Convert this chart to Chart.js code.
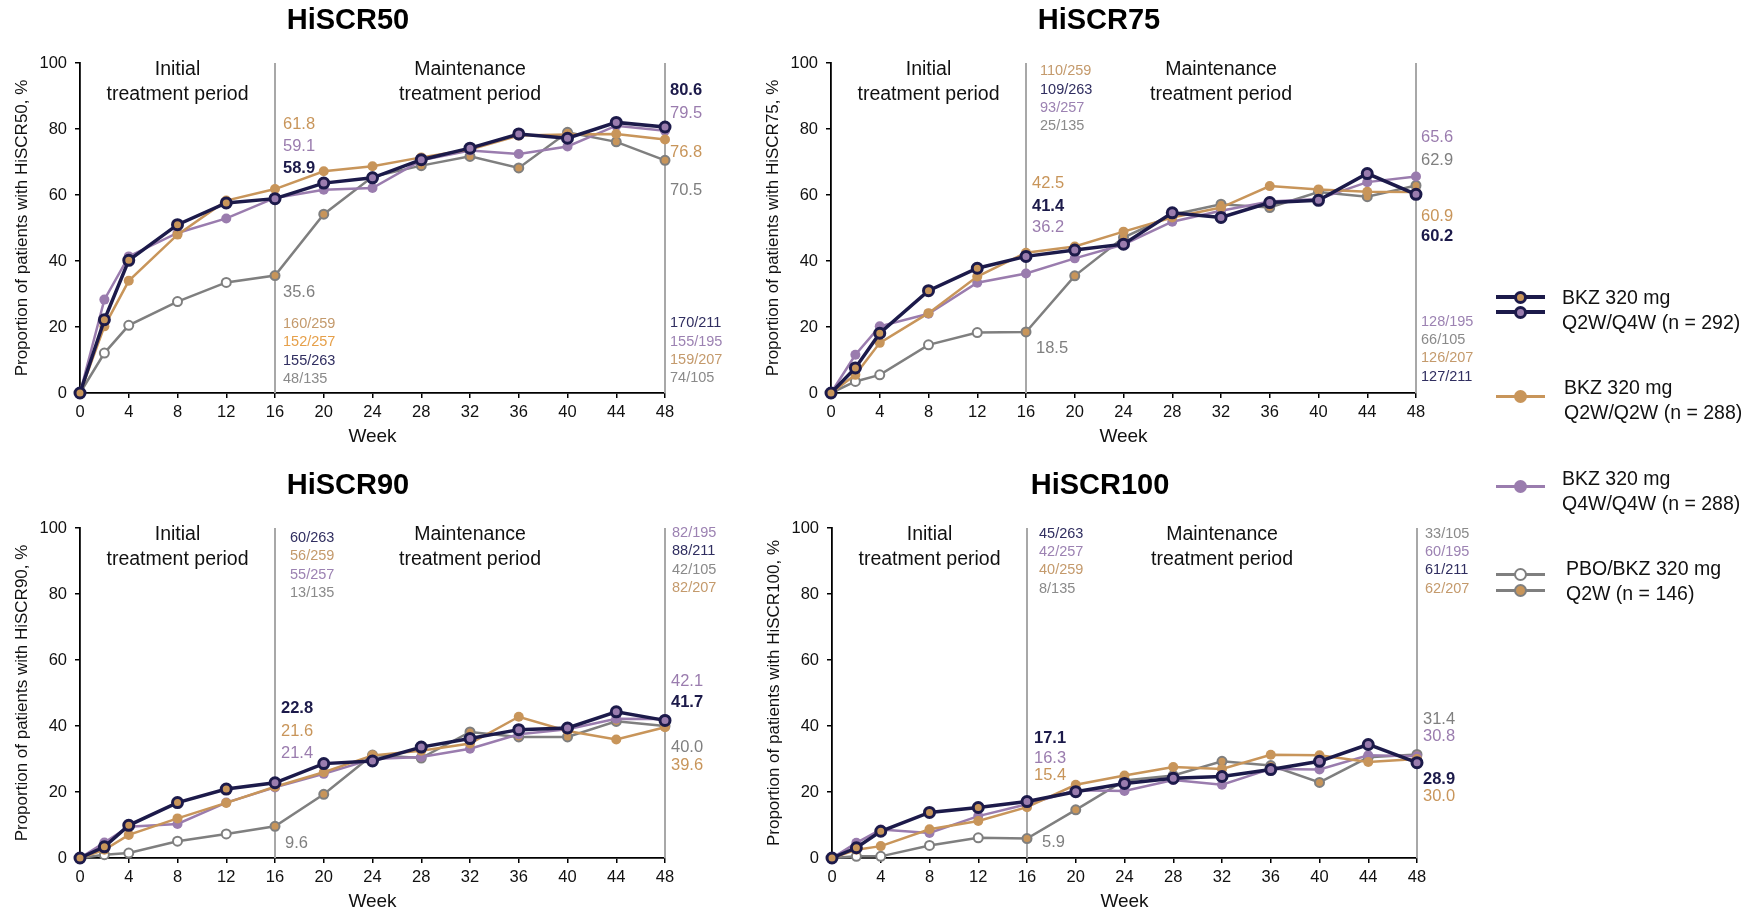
<!DOCTYPE html>
<html>
<head>
<meta charset="utf-8">
<title>HiSCR response over 48 weeks</title>
<script src="https://cdn.jsdelivr.net/npm/chart.js@4.4.1/dist/chart.umd.min.js"></script>
<style>
  body {
    margin: 0;
    background: #fff;
    width: 1764px;
    height: 913px;
    position: relative;
    overflow: hidden;
    font-family: "Liberation Sans", Arial, sans-serif;
  }
  canvas.panel { position: absolute; }
  .leg-line, .leg-dot, .leg-text { position: absolute; }
  .leg-dot { box-sizing: border-box; border-radius: 50%; }
  .leg-text { font-size: 19.5px; line-height: 25px; color: #111; white-space: nowrap; }
</style>
</head>
<body>
<canvas id="hiscr50" class="panel" width="760" height="450" style="left:0px;top:0px;width:760px;height:450px"></canvas>
<canvas id="hiscr75" class="panel" width="760" height="450" style="left:751px;top:0px;width:760px;height:450px"></canvas>
<canvas id="hiscr90" class="panel" width="760" height="450" style="left:0px;top:465px;width:760px;height:450px"></canvas>
<canvas id="hiscr100" class="panel" width="760" height="450" style="left:752px;top:465px;width:760px;height:450px"></canvas>
<div id="legend"></div>

<script>
// weeks of assessment
const weeks = [0, 2, 4, 8, 12, 16, 20, 24, 28, 32, 36, 40, 44, 48];

// HiSCR50 responders, %
const hiscr50Q2wQ4w = [0, 22.2, 40.2, 51.0, 57.6, 58.9, 63.6, 65.2, 70.7, 74.2, 78.5, 77.2, 82.0, 80.6];
const hiscr50Q2wQ2w = [0, 20.2, 34.0, 48.0, 58.3, 61.8, 67.2, 68.7, 71.4, 73.8, 78.0, 78.3, 78.5, 76.8];
const hiscr50Q4wQ4w = [0, 28.3, 41.4, 48.5, 52.9, 59.1, 61.6, 62.1, 70.5, 73.5, 72.4, 74.7, 81.0, 79.5];
const hiscr50Pbo = [0, 12.1, 20.5, 27.7, 33.5, 35.6, 54.2, 65.5, 68.9, 71.7, 68.2, 79.0, 76.1, 70.5];

// HiSCR75 responders, %
const hiscr75Q2wQ4w = [0, 7.6, 18.1, 31.0, 37.8, 41.4, 43.3, 45.1, 54.6, 53.2, 57.7, 58.4, 66.5, 60.2];
const hiscr75Q2wQ2w = [0, 5.5, 15.2, 24.2, 35.3, 42.5, 44.4, 48.9, 53.2, 56.2, 62.7, 61.7, 61.0, 60.9];
const hiscr75Q4wQ4w = [0, 11.6, 20.2, 24.0, 33.4, 36.2, 40.8, 45.0, 51.9, 55.2, 58.0, 58.8, 63.9, 65.6];
const hiscr75Pbo = [0, 3.5, 5.5, 14.6, 18.3, 18.5, 35.5, 47.1, 54.0, 57.2, 56.2, 60.9, 59.5, 62.9];

// HiSCR90 responders, %
const hiscr90Q2wQ4w = [0, 3.4, 9.9, 16.8, 20.9, 22.8, 28.6, 29.4, 33.6, 36.2, 38.9, 39.4, 44.3, 41.7];
const hiscr90Q2wQ2w = [0, 2.5, 7.0, 12.0, 16.7, 21.6, 26.0, 31.1, 32.5, 34.7, 42.8, 38.5, 35.9, 39.6];
const hiscr90Q4wQ4w = [0, 4.7, 9.5, 10.3, 16.8, 21.4, 25.5, 30.0, 30.6, 33.1, 37.5, 39.0, 42.2, 42.1];
const hiscr90Pbo = [0, 1.0, 1.5, 5.1, 7.3, 9.6, 19.3, 31.2, 30.3, 38.2, 36.7, 36.7, 41.4, 40.0];

// HiSCR100 responders, %
const hiscr100Q2wQ4w = [0, 3.1, 8.1, 13.8, 15.3, 17.1, 20.1, 22.6, 24.2, 24.7, 26.8, 29.3, 34.4, 28.9];
const hiscr100Q2wQ2w = [0, 2.5, 3.6, 8.7, 11.2, 15.4, 22.2, 25.0, 27.6, 27.0, 31.3, 31.1, 29.1, 30.0];
const hiscr100Q4wQ4w = [0, 4.6, 8.6, 7.6, 12.7, 16.3, 20.5, 20.3, 23.6, 22.2, 27.0, 26.8, 31.1, 30.8];
const hiscr100Pbo = [0, 0.5, 0.5, 3.8, 6.1, 5.9, 14.6, 23.5, 25.0, 29.3, 28.0, 22.9, 30.5, 31.4];

// responders / patients, listed top to bottom as printed
const counts50Wk16 = ['160/259', '152/257', '155/263', '48/135'];
const counts50Wk48 = ['170/211', '155/195', '159/207', '74/105'];
const counts75Wk16 = ['110/259', '109/263', '93/257', '25/135'];
const counts75Wk48 = ['128/195', '66/105', '126/207', '127/211'];
const counts90Wk16 = ['60/263', '56/259', '55/257', '13/135'];
const counts90Wk48 = ['82/195', '88/211', '42/105', '82/207'];
const counts100Wk16 = ['45/263', '42/257', '40/259', '8/135'];
const counts100Wk48 = ['33/105', '60/195', '61/211', '62/207'];

const groupNames = [
  ['BKZ 320 mg', 'Q2W/Q4W (n = 292)'],
  ['BKZ 320 mg', 'Q2W/Q2W (n = 288)'],
  ['BKZ 320 mg', 'Q4W/Q4W (n = 288)'],
  ['PBO/BKZ 320 mg', 'Q2W (n = 146)']
];

const NAVY = '#1c1a4a';
const TAN = '#c8955a';
const PURPLE = '#9a7cae';
const GRAY = '#7f7f7f';
const NAVY_T = '#302e60';
const TAN_T = '#c49a6c';
const ORANGE_T = '#e6a04a';
const PURPLE_T = '#9c82b2';
const GRAY_T = '#8a8a8a';
const valueColors = [NAVY, TAN, PURPLE, GRAY];
const FONT = '"Liberation Sans", Arial, sans-serif';

// s = series index (0 Q2W/Q4W, 1 Q2W/Q2W, 2 Q4W/Q4W, 3 PBO/BKZ)
const panels = [
  {
    id: 'hiscr50', title: 'HiSCR50',
    series: [hiscr50Q2wQ4w, hiscr50Q2wQ2w, hiscr50Q4wQ4w, hiscr50Pbo],
    values: [
      { s: 1, wk: 16, y: 81.4, dx: 8 }, { s: 2, wk: 16, y: 74.6, dx: 8 },
      { s: 0, wk: 16, y: 68.1, dx: 8 }, { s: 3, wk: 16, y: 30.5, dx: 8 },
      { s: 0, wk: 48, y: 91.6, dx: 5 }, { s: 2, wk: 48, y: 84.8, dx: 5 },
      { s: 1, wk: 48, y: 72.8, dx: 5 }, { s: 3, wk: 48, y: 61.3, dx: 5 }
    ],
    counts: [
      { wk: 16, dx: 8, y: 20.9, texts: counts50Wk16, colors: [TAN_T, ORANGE_T, NAVY_T, GRAY_T] },
      { wk: 48, dx: 5, y: 21.1, texts: counts50Wk48, colors: [NAVY_T, PURPLE_T, TAN_T, GRAY_T] }
    ]
  },
  {
    id: 'hiscr75', title: 'HiSCR75',
    series: [hiscr75Q2wQ4w, hiscr75Q2wQ2w, hiscr75Q4wQ4w, hiscr75Pbo],
    values: [
      { s: 1, wk: 16, y: 63.4, dx: 6 }, { s: 0, wk: 16, y: 56.4, dx: 6 },
      { s: 2, wk: 16, y: 50.3, dx: 6 }, { s: 3, wk: 16, y: 13.6, dx: 10 },
      { s: 2, wk: 48, y: 77.3, dx: 5 }, { s: 3, wk: 48, y: 70.5, dx: 5 },
      { s: 1, wk: 48, y: 53.4, dx: 5 }, { s: 0, wk: 48, y: 47.4, dx: 5 }
    ],
    counts: [
      { wk: 16, dx: 14, y: 97.5, texts: counts75Wk16, colors: [TAN_T, NAVY_T, PURPLE_T, GRAY_T] },
      { wk: 48, dx: 5, y: 21.6, texts: counts75Wk48, colors: [PURPLE_T, GRAY_T, TAN_T, NAVY_T] }
    ]
  },
  {
    id: 'hiscr90', title: 'HiSCR90',
    series: [hiscr90Q2wQ4w, hiscr90Q2wQ2w, hiscr90Q4wQ4w, hiscr90Pbo],
    values: [
      { s: 0, wk: 16, y: 45.3, dx: 6 }, { s: 1, wk: 16, y: 38.2, dx: 6 },
      { s: 2, wk: 16, y: 31.6, dx: 6 }, { s: 3, wk: 16, y: 4.3, dx: 10 },
      { s: 2, wk: 48, y: 53.4, dx: 6 }, { s: 0, wk: 48, y: 47.0, dx: 6 },
      { s: 3, wk: 48, y: 33.6, dx: 6 }, { s: 1, wk: 48, y: 28.1, dx: 6 }
    ],
    counts: [
      { wk: 16, dx: 15, y: 97.0, texts: counts90Wk16, colors: [NAVY_T, TAN_T, PURPLE_T, GRAY_T] },
      { wk: 48, dx: 7, y: 98.5, texts: counts90Wk48, colors: [PURPLE_T, NAVY_T, GRAY_T, TAN_T] }
    ]
  },
  {
    id: 'hiscr100', title: 'HiSCR100',
    series: [hiscr100Q2wQ4w, hiscr100Q2wQ2w, hiscr100Q4wQ4w, hiscr100Pbo],
    values: [
      { s: 0, wk: 16, y: 36.2, dx: 7 }, { s: 2, wk: 16, y: 30.3, dx: 7 },
      { s: 1, wk: 16, y: 25.0, dx: 7 }, { s: 3, wk: 16, y: 4.7, dx: 15 },
      { s: 3, wk: 48, y: 42.0, dx: 6 }, { s: 2, wk: 48, y: 36.9, dx: 6 },
      { s: 0, wk: 48, y: 23.7, dx: 6 }, { s: 1, wk: 48, y: 18.6, dx: 6 }
    ],
    counts: [
      { wk: 16, dx: 12, y: 98.3, texts: counts100Wk16, colors: [NAVY_T, PURPLE_T, TAN_T, GRAY_T] },
      { wk: 48, dx: 8, y: 98.3, texts: counts100Wk48, colors: [GRAY_T, PURPLE_T, NAVY_T, TAN_T] }
    ]
  }
];

// panel title, period divider lines and the printed labels
function overlay(panel) {
  return {
    id: 'overlay',
    beforeDatasetsDraw(chart) {
      const { ctx, chartArea, scales: { x, y } } = chart;
      ctx.save();
      ctx.fillStyle = '#000';
      ctx.textAlign = 'center';
      ctx.textBaseline = 'middle';
      ctx.font = 'bold 29px ' + FONT;
      ctx.fillText(panel.title, chartArea.left + 268, 21);

      ctx.strokeStyle = '#a8a8a8';
      ctx.lineWidth = 2;
      [16, 48].forEach((wk) => {
        const px = x.getPixelForValue(wk);
        ctx.beginPath();
        ctx.moveTo(px, y.getPixelForValue(0));
        ctx.lineTo(px, y.getPixelForValue(100));
        ctx.stroke();
      });
      ctx.restore();
    },
    afterDatasetsDraw(chart) {
      const { ctx, scales: { x, y } } = chart;
      ctx.save();
      ctx.textBaseline = 'middle';

      // period headings
      ctx.fillStyle = '#111';
      ctx.textAlign = 'center';
      ctx.font = '19.5px ' + FONT;
      ctx.fillText('Initial', x.getPixelForValue(8), y.getPixelForValue(98));
      ctx.fillText('treatment period', x.getPixelForValue(8), y.getPixelForValue(90.4));
      ctx.fillText('Maintenance', x.getPixelForValue(32), y.getPixelForValue(98));
      ctx.fillText('treatment period', x.getPixelForValue(32), y.getPixelForValue(90.4));

      // values at week 16 and 48
      ctx.textAlign = 'left';
      panel.values.forEach((v) => {
        const val = panel.series[v.s][weeks.indexOf(v.wk)];
        ctx.font = (v.s === 0 ? 'bold ' : '') + '16.5px ' + FONT;
        ctx.fillStyle = valueColors[v.s];
        ctx.fillText(val.toFixed(1), x.getPixelForValue(v.wk) + v.dx, y.getPixelForValue(v.y));
      });

      // responders / patients
      ctx.font = '14.5px ' + FONT;
      panel.counts.forEach((c) => {
        const px = x.getPixelForValue(c.wk) + c.dx;
        const py = y.getPixelForValue(c.y);
        c.texts.forEach((t, i) => {
          ctx.fillStyle = c.colors[i];
          ctx.fillText(t, px, py + i * 18.3);
        });
      });
      ctx.restore();
    }
  };
}

function toPoints(values) {
  return values.map((v, i) => ({ x: weeks[i], y: v }));
}

// Q2W/Q4W dots switch fill at week 16, PBO dots switch from open to filled
const navyFill = weeks.map((w) => (w < 16 ? TAN : PURPLE));
const pboFill = weeks.map((w) => (w < 16 ? '#ffffff' : TAN));

panels.forEach((panel) => {
  const ctx = document.getElementById(panel.id).getContext('2d');
  const [q2wq4w, q2wq2w, q4wq4w, pbo] = panel.series;
  new Chart(ctx, {
    type: 'line',
    data: {
      datasets: [
        {
          label: groupNames[0].join(' '),
          data: toPoints(q2wq4w),
          borderColor: NAVY,
          borderWidth: 3.5,
          pointRadius: 5,
          pointBorderWidth: 3,
          pointBorderColor: NAVY,
          pointBackgroundColor: navyFill,
          clip: false
        },
        {
          label: groupNames[1].join(' '),
          data: toPoints(q2wq2w),
          borderColor: TAN,
          borderWidth: 2.5,
          pointRadius: 5,
          pointBorderWidth: 0,
          pointBackgroundColor: TAN,
          clip: false
        },
        {
          label: groupNames[2].join(' '),
          data: toPoints(q4wq4w),
          borderColor: PURPLE,
          borderWidth: 2.5,
          pointRadius: 5,
          pointBorderWidth: 0,
          pointBackgroundColor: PURPLE,
          clip: false
        },
        {
          label: groupNames[3].join(' '),
          data: toPoints(pbo),
          borderColor: GRAY,
          borderWidth: 2.5,
          pointRadius: 4.5,
          pointBorderWidth: 2,
          pointBorderColor: GRAY,
          pointBackgroundColor: pboFill,
          clip: false
        }
      ]
    },
    options: {
      responsive: false,
      animation: false,
      events: [],
      layout: { padding: { top: 63, right: 95, bottom: 0, left: 0 } },
      plugins: {
        legend: { display: false },
        tooltip: { enabled: false },
        title: { display: false }
      },
      scales: {
        x: {
          type: 'linear',
          min: 0,
          max: 48,
          afterFit: (scale) => { scale.height = 57; },
          ticks: { stepSize: 4, color: '#111', padding: 5, font: { family: FONT, size: 16.5 } },
          grid: { drawOnChartArea: false, drawTicks: true, tickLength: 5, color: '#000', lineWidth: 1.5 },
          border: { color: '#000', width: 1.8 },
          title: {
            display: true,
            text: 'Week',
            color: '#111',
            font: { family: FONT, size: 19 },
            padding: { top: 0, bottom: 2 }
          }
        },
        y: {
          min: 0,
          max: 100,
          afterFit: (scale) => { scale.width = 80; },
          ticks: { stepSize: 20, color: '#111', padding: 8, font: { family: FONT, size: 16.5 } },
          grid: { drawOnChartArea: false, drawTicks: true, tickLength: 5, color: '#000', lineWidth: 1.5 },
          border: { color: '#000', width: 1.8 },
          title: {
            display: true,
            text: 'Proportion of patients with ' + panel.title + ', %',
            color: '#111',
            font: { family: FONT, size: 17 },
            padding: { top: 12, bottom: 0 }
          }
        }
      }
    },
    plugins: [overlay(panel)]
  });
});

// legend on the right
const legendRows = [
  { lines: [{ y: 297, color: NAVY, lw: 3.5, ring: NAVY, fill: TAN }, { y: 312, color: NAVY, lw: 3.5, ring: NAVY, fill: PURPLE }], textX: 1562, textY: 297 },
  { lines: [{ y: 396, color: TAN, lw: 3, ring: TAN, fill: TAN }], textX: 1564, textY: 387 },
  { lines: [{ y: 486, color: PURPLE, lw: 3, ring: PURPLE, fill: PURPLE }], textX: 1562, textY: 478 },
  { lines: [{ y: 574, color: GRAY, lw: 3, ring: GRAY, fill: '#ffffff' }, { y: 590, color: GRAY, lw: 3, ring: GRAY, fill: TAN }], textX: 1566, textY: 568 }
];

const legend = document.getElementById('legend');
legendRows.forEach((row, i) => {
  row.lines.forEach((l) => {
    const line = document.createElement('div');
    line.className = 'leg-line';
    line.style.cssText = `left:1496px;top:${l.y - l.lw / 2}px;width:49px;height:${l.lw}px;background:${l.color}`;
    legend.appendChild(line);
    const dot = document.createElement('div');
    const size = 13;
    const bw = l.ring === l.fill ? 0 : (l.ring === NAVY ? 3 : 2);
    dot.className = 'leg-dot';
    dot.style.cssText = `left:${1520 - size / 2}px;top:${l.y - size / 2}px;width:${size}px;height:${size}px;` +
      `background:${l.fill};border:${bw}px solid ${l.ring}`;
    legend.appendChild(dot);
  });
  const text = document.createElement('div');
  text.className = 'leg-text';
  text.style.left = row.textX + 'px';
  text.style.top = (row.textY - 12.5) + 'px';
  text.innerHTML = groupNames[i].join('<br>');
  legend.appendChild(text);
});
</script>
</body>
</html>
